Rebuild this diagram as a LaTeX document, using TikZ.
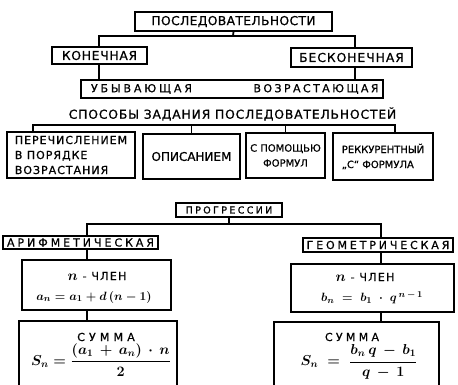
\documentclass[tikz,border=0pt]{standalone}
\usepackage{amsmath}
\usepackage{fontspec}
\setmainfont[FakeBold=0.8]{DejaVu Sans}
\usetikzlibrary{calc}

\tikzset{
  box/.style={draw, line width=1.8pt, inner sep=0pt, align=center},
  txt/.style 2 args={font={\fontsize{#1}{15}\selectfont\addfontfeature{LetterSpace=#2}}},
  frm/.style={font=\fontsize{13}{15}\selectfont\boldmath},
  sumfrm/.style={font=\fontsize{14.5}{17}\selectfont\boldmath},
  link/.style={line width=1.8pt}
}

\begin{document}
\begin{tikzpicture}[x=1pt,y=-1pt]
\useasboundingbox (0,0) rectangle (458,385);
\clip (0,0) rectangle (458,385);

% sequences
\node[box, txt={12.3}{3}, minimum width=197pt, minimum height=19pt] (seq) at (233.5,21.5) {ПОСЛЕДОВАТЕЛЬНОСТИ};
\node[box, txt={12.3}{6}, minimum width=95pt, minimum height=17pt] (fin) at (99.5,55.5) {КОНЕЧНАЯ};
\node[box, txt={12.3}{8}, minimum width=121pt, minimum height=19pt] (inf) at (351.5,57.5) {БЕСКОНЕЧНАЯ};
\node[box, minimum width=302pt, minimum height=18pt] (mono) at (232,89) {};
\node[txt={11}{26}] (dec) at (141.5,89) {УБЫВАЮЩАЯ};
\node[txt={11}{22}] (inc) at (316,89) {ВОЗРАСТАЮЩАЯ};
\coordinate (s1) at (233,36);
\coordinate (fl) at (99,36);
\coordinate (fr) at (355,36);
\draw[link] (seq.south) -- (s1);
\draw[link] (fl |- fin.north) |- (fr) -- (fr |- inf.north);
\draw[link] (fl |- fin.south) -- (fl |- mono.north);
\draw[link] (fr |- inf.south) -- (fr |- mono.north);

% ways of definition
\node[txt={12.3}{7}] (ways) at (232.5,114) {СПОСОБЫ ЗАДАНИЯ ПОСЛЕДОВАТЕЛЬНОСТЕЙ};
\node[box, txt={11}{9}, align=left, minimum width=128pt, minimum height=46pt] (m1) at (71,155) {ПЕРЕЧИСЛЕНИЕМ\\В ПОРЯДКЕ\\ВОЗРАСТАНИЯ};
\node[box, txt={12}{0}, minimum width=97pt, minimum height=45pt] (m2) at (191.5,156.5) {ОПИСАНИЕМ};
\node[box, txt={10}{0}, minimum width=79pt, minimum height=45pt] (m3) at (285.5,155.5) {С ПОМОЩЬЮ\\ФОРМУЛ};
\node[box, txt={10}{0}, align=left, minimum width=100pt, minimum height=47pt] (m4) at (383,156.5) {РЕККУРЕНТНЫЙ\\„С“ ФОРМУЛА};
\coordinate (wl) at (33,125);
\coordinate (wr) at (395,125);
\draw[link] (wl |- m1.north) |- (wr) -- (wr |- m4.north);
\draw[link] (m2.north |- wl) -- (m2.north);
\draw[link] (m3.north |- wl) -- (m3.north);

% progressions
\node[box, txt={9.6}{24}, minimum width=106pt, minimum height=14pt] (prog) at (229,210) {ПРОГРЕССИИ};
\node[box, txt={11}{27}, minimum width=155pt, minimum height=13pt] (arith) at (80.5,242.5) {АРИФМЕТИЧЕСКАЯ};
\node[box, txt={11}{26}, minimum width=150pt, minimum height=14pt] (geom) at (378,245) {ГЕОМЕТРИЧЕСКАЯ};
\coordinate (p1) at (229,224);
\coordinate (pl) at (87,224);
\coordinate (pr) at (381,224);
\draw[link] (prog.south) -- (p1);
\draw[link] (pl |- arith.north) |- (pr) -- (pr |- geom.north);

\node[box, minimum width=149pt, minimum height=50pt] (an) at (96.5,285) {};
\node[txt={11}{12}] (anh) at (97,276) {{\fontsize{14}{16}\selectfont\boldmath$n$} - ЧЛЕН};
\node[frm] (anf) at (94,297) {$a_n = a_1 + d\,(n-1)$};
\node[box, minimum width=163pt, minimum height=48pt] (bn) at (372.5,288) {};
\node[txt={11}{12}] (bnh) at (365,277) {{\fontsize{14}{16}\selectfont\boldmath$n$} - ЧЛЕН};
\node[frm] (bnf) at (372,298) {$b_n \;=\; b_1 \;\cdot\; q^{\,n\,-\,1}$};
\node[box, minimum width=158pt, minimum height=74pt] (sa) at (98,358) {};
\node[txt={11}{38}] (sah) at (106,337) {СУММА};
\node[sumfrm] (saf) at (101,360) {$S_n = \dfrac{(a_1 \,+\, a_n)\,\cdot\, n}{2}$};
\node[box, minimum width=165pt, minimum height=74pt] (sb) at (356.5,359) {};
\node[txt={11}{30}] (sbh) at (352,337) {СУММА};
\node[sumfrm] (sbf) at (359,362) {$S_n \;=\; \dfrac{b_n\, q \,-\, b_1}{q\,-\,1}$};
\draw[link] (pl |- arith.south) -- (pl |- an.north);
\draw[link] (pl |- an.south) -- (pl |- sa.north);
\draw[link] (pr |- geom.south) -- (pr |- bn.north);
\draw[link] (pr |- bn.south) -- (pr |- sb.north);
\end{tikzpicture}
\end{document}
